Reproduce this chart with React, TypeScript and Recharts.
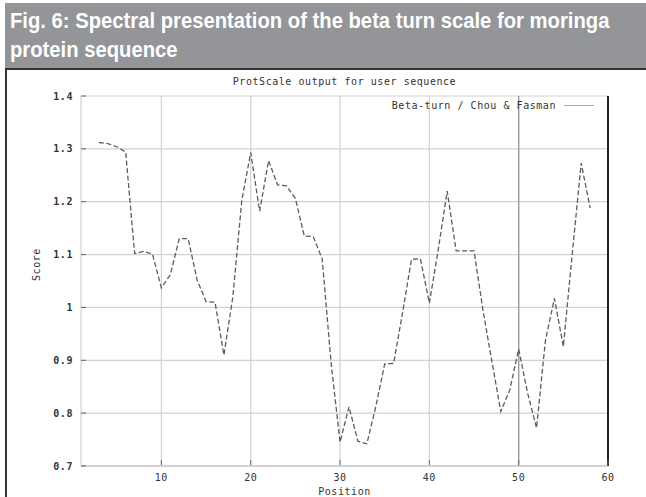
import { LineChart, Line, XAxis, YAxis, CartesianGrid, ReferenceLine, Label } from 'recharts'

// ─── Data ─────────────────────────────────────────────────────────────────────

const positions = [
  3, 4, 5, 6, 7, 8, 9, 10, 11, 12, 13, 14, 15, 16, 17, 18, 19, 20, 21, 22,
  23, 24, 25, 26, 27, 28, 29, 30, 31, 32, 33, 34, 35, 36, 37, 38, 39, 40,
  41, 42, 43, 44, 45, 46, 47, 48, 49, 50, 51, 52, 53, 54, 55, 56, 57, 58,
]

const betaTurn = [
  1.312, 1.310, 1.304, 1.294, 1.102, 1.106, 1.101, 1.037, 1.062, 1.130,
  1.130, 1.052, 1.011, 1.010, 0.910, 1.020, 1.202, 1.293, 1.182, 1.278,
  1.232, 1.230, 1.206, 1.135, 1.134, 1.092, 0.895, 0.745, 0.812, 0.747,
  0.742, 0.812, 0.893, 0.894, 0.990, 1.091, 1.092, 1.008, 1.110, 1.220,
  1.107, 1.107, 1.107, 0.995, 0.898, 0.803, 0.844, 0.921, 0.838, 0.772,
  0.938, 1.017, 0.926, 1.102, 1.273, 1.188,
]

const xTicks = [10, 20, 30, 40, 50, 60]
const yTicks = [0.7, 0.8, 0.9, 1.0, 1.1, 1.2, 1.3, 1.4]

const chartTitle = 'ProtScale output for user sequence'
const seriesName = 'Beta-turn / Chou & Fasman'
const captionLines = ['Fig. 6: Spectral presentation of the beta turn scale for moringa', 'protein sequence']

const data = positions.map((pos, i) => ({ pos, score: betaTurn[i] }))

// ─── Styling ──────────────────────────────────────────────────────────────────

const MONO = '"DejaVu Sans Mono", "Liberation Mono", monospace'
const TEXT = '#333'
const GRID = '#d2d2d2'
const FS = 10
const LS = 0.55

const fmtScore = (v: number) => (Math.abs(v - 1) < 1e-9 ? '1' : v.toFixed(1))

// ─── Ticks ────────────────────────────────────────────────────────────────────

function ScoreTick({ x, y, payload }: { x: number; y: number; payload: { value: number } }) {
  return (
    <g>
      <line x1={x + 8} x2={x + 13} y1={y} y2={y} stroke="#666" />
      <text x={x} y={y} dy={3.5} textAnchor="end" fontFamily={MONO} fontSize={FS} letterSpacing={LS} fontWeight="bold" fill={TEXT}>
        {fmtScore(payload.value)}
      </text>
    </g>
  )
}

function PositionTick({ x, y, payload }: { x: number; y: number; payload: { value: number } }) {
  return (
    <g>
      <line x1={x} x2={x} y1={y - 8} y2={y - 13} stroke="#666" />
      <text x={x} y={y} dy={8} textAnchor="middle" fontFamily={MONO} fontSize={FS} letterSpacing={LS} fill={TEXT}>
        {payload.value}
      </text>
    </g>
  )
}

// ─── App ──────────────────────────────────────────────────────────────────────

export default function App() {
  return (
    <div style={{ position: 'absolute', left: 0, top: 0, width: 646, height: 497, background: '#fff', overflow: 'hidden' }}>
      {/* caption band */}
      <div style={{ position: 'absolute', left: 5, top: 3, width: 641, height: 65, background: '#939598' }}>
        {captionLines.map((line, i) => (
          <div
            key={i}
            style={{
              position: 'absolute', left: 5, top: 5 + i * 29, whiteSpace: 'nowrap',
              color: '#fff', fontFamily: '"Liberation Sans", Arial, sans-serif', fontWeight: 'bold',
              fontSize: 22, lineHeight: '26px', transform: 'scaleX(0.92)', transformOrigin: 'left top',
            }}
          >
            {line}
          </div>
        ))}
      </div>
      {/* frame */}
      <div style={{ position: 'absolute', left: 5, top: 68, width: 641, height: 429, borderTop: '2px solid #333', borderLeft: '2px solid #333', boxSizing: 'border-box' }} />

      <div style={{ position: 'absolute', left: 0, top: 0 }}>
        <LineChart width={646} height={497} data={data} margin={{ top: 96, right: 38, left: 0, bottom: 0 }}>
          <CartesianGrid stroke={GRID} strokeWidth={1.2} />
          <XAxis
            type="number"
            dataKey="pos"
            domain={[1, 60]}
            ticks={xTicks}
            allowDataOverflow
            height={31}
            tickSize={0}
            tickMargin={7}
            tickLine={false}
            axisLine={{ stroke: '#bbb' }}
            tick={PositionTick}
          >
            <Label value="Position" position="insideBottom" offset={2} fontFamily={MONO} fontSize={FS} letterSpacing={LS} fill={TEXT} />
          </XAxis>
          <YAxis
            type="number"
            domain={[0.7, 1.4]}
            ticks={yTicks}
            allowDataOverflow
            width={81}
            tickSize={0}
            tickMargin={8}
            tickLine={false}
            axisLine={false}
            tick={ScoreTick}
          >
            <Label value="Score" angle={-90} position="insideLeft" offset={36} fontFamily={MONO} fontSize={FS} letterSpacing={LS} fill={TEXT} />
          </YAxis>
          <ReferenceLine x={50} stroke="#999" strokeWidth={1.3} />
          <ReferenceLine x={60} stroke="#222" strokeWidth={2} />
          <Line
            type="linear"
            dataKey="score"
            stroke="#5c5c5c"
            strokeWidth={1.3}
            strokeDasharray="5 2.5"
            dot={false}
            isAnimationActive={false}
          />
        </LineChart>
      </div>

      {/* chart title */}
      <div style={{ position: 'absolute', left: 81, width: 527, top: 76, textAlign: 'center', fontFamily: MONO, fontSize: FS, letterSpacing: LS, color: TEXT }}>
        {chartTitle}
      </div>
      {/* legend */}
      <div style={{ position: 'absolute', right: 52, top: 100, display: 'flex', alignItems: 'center', fontFamily: MONO, fontSize: FS, letterSpacing: LS, color: TEXT }}>
        <span>{seriesName}</span>
        <span style={{ display: 'inline-block', width: 30, height: 0, borderTop: '1.5px solid #aaa', marginLeft: 8 }} />
      </div>
    </div>
  )
}
